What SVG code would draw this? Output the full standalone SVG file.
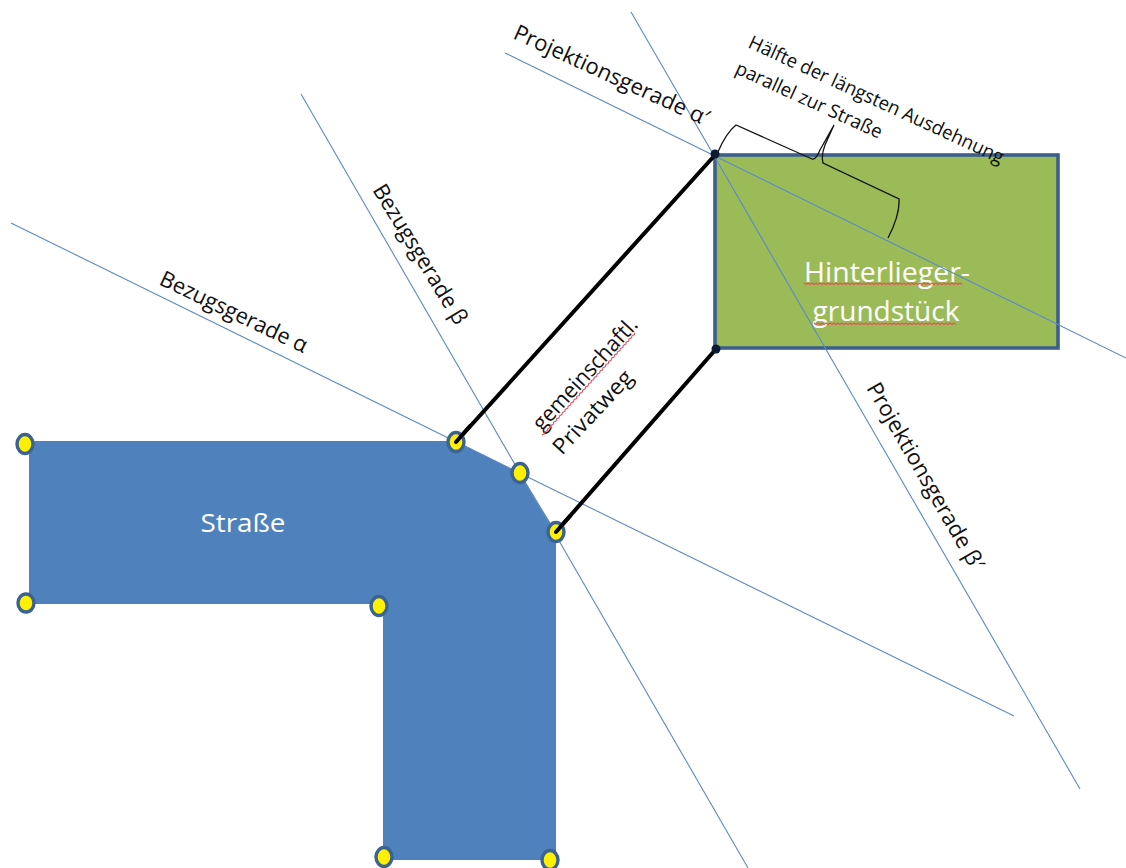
<svg xmlns="http://www.w3.org/2000/svg" width="1126" height="868" viewBox="0 0 1126 868">
<style>
text{font-family:"Open Sans","Noto Sans","Liberation Sans",sans-serif;fill:#111}
.ln{stroke:#5b8ac6;stroke-width:1.1;fill:none}
.pt{fill:#ffef00;stroke:#3a6394;stroke-width:3.4}
.blk{stroke:#000;stroke-width:4;fill:none;stroke-linecap:round}
.sq{stroke:#e8505a;stroke-width:1.1;fill:none}
.w{fill:#fff}
</style>
<rect width="1126" height="868" fill="#fff"/>
<g id="strasse">
<path d="M29 441H456L520 473L556 532V860H383V604H29Z" fill="#4f81bd"/>
<text class="w" x="243" y="532" font-size="26" text-anchor="middle" textLength="85" lengthAdjust="spacingAndGlyphs">Straße</text>
</g>
<g id="grundstueck">
<rect x="715" y="155" width="343" height="193" fill="#9bbb59" stroke="#3c5f8e" stroke-width="3.600"/>
<text class="w" x="887" y="282" font-size="28" text-anchor="middle" textLength="166" lengthAdjust="spacingAndGlyphs">Hinterlieger-</text>
<text class="w" x="886" y="321" font-size="28" text-anchor="middle" textLength="147" lengthAdjust="spacingAndGlyphs">grundstück</text>
<path class="sq" d="M804 283l2 1.500 2-1.500 2 1.500 2-1.500 2 1.500 2-1.500 2 1.500 2-1.500 2 1.500 2-1.500 2 1.500 2-1.500 2 1.500 2-1.500 2 1.500 2-1.500 2 1.500 2-1.500 2 1.500 2-1.500 2 1.500 2-1.500 2 1.500 2-1.500 2 1.500 2-1.500 2 1.500 2-1.500 2 1.500 2-1.500 2 1.500 2-1.500 2 1.500 2-1.500 2 1.500 2-1.500 2 1.500 2-1.500 2 1.500 2-1.500 2 1.500 2-1.500 2 1.500 2-1.500 2 1.500 2-1.500 2 1.500 2-1.500 2 1.500 2-1.500 2 1.500 2-1.500 2 1.500 2-1.500 2 1.500 2-1.500 2 1.500 2-1.500 2 1.500 2-1.500 2 1.500 2-1.500 2 1.500 2-1.500 2 1.500 2-1.500 2 1.500 2-1.500 2 1.500 2-1.500 2 1.500 2-1.500 2 1.500 2-1.500 2 1.500 2-1.500 2 1.500 2-1.500 2 1.500"/>
<path class="sq" d="M814 323l2 1.500 2-1.500 2 1.500 2-1.500 2 1.500 2-1.500 2 1.500 2-1.500 2 1.500 2-1.500 2 1.500 2-1.500 2 1.500 2-1.500 2 1.500 2-1.500 2 1.500 2-1.500 2 1.500 2-1.500 2 1.500 2-1.500 2 1.500 2-1.500 2 1.500 2-1.500 2 1.500 2-1.500 2 1.500 2-1.500 2 1.500 2-1.500 2 1.500 2-1.500 2 1.500 2-1.500 2 1.500 2-1.500 2 1.500 2-1.500 2 1.500 2-1.500 2 1.500 2-1.500 2 1.500 2-1.500 2 1.500 2-1.500 2 1.500 2-1.500 2 1.500 2-1.500 2 1.500 2-1.500 2 1.500 2-1.500 2 1.500 2-1.500 2 1.500 2-1.500 2 1.500 2-1.500 2 1.500 2-1.500 2 1.500 2-1.500 2 1.500 2-1.500 2 1.500 2-1.500 2 1.500"/>
</g>
<g id="connectors">
<path class="ln" d="M11 223L1014 716"/>
<path class="ln" d="M301 94L748 868"/>
<path class="ln" d="M505 53L1126 358"/>
<path class="ln" d="M631 12L1080 789"/>
<path class="blk" d="M456 442L715 155"/>
<path class="blk" d="M556 532L716 349"/>
<path d="M718 152Q726 133 736 125L812 159Q816 160 820 150L834 125L825 145Q821 155 823 163L899 199Q900 215 888 238" fill="none" stroke="#111" stroke-width="1.300"/>
</g>
<g id="punkte">
<ellipse class="pt" cx="25" cy="444" rx="8" ry="9.500"/>
<ellipse class="pt" cx="26" cy="603" rx="8" ry="9"/>
<ellipse class="pt" cx="379" cy="606" rx="8" ry="9.500"/>
<ellipse class="pt" cx="456" cy="442" rx="8" ry="9.500"/>
<ellipse class="pt" cx="520" cy="473" rx="8" ry="9.500"/>
<ellipse class="pt" cx="556" cy="532" rx="8" ry="9.500"/>
<ellipse class="pt" cx="384" cy="857" rx="8" ry="9.500"/>
<ellipse class="pt" cx="550" cy="860" rx="8" ry="9.500"/>
<path class="blk" d="M456 442L470 426M556 532L570 516"/>
<circle cx="715" cy="154" r="4.500" fill="#0a1a30"/>
<circle cx="716" cy="349" r="4.500" fill="#0a1a30"/>
</g>
<g id="labels">
<text transform="translate(158 284) rotate(25.500)" font-size="22" textLength="161" lengthAdjust="spacingAndGlyphs">Bezugsgerade α</text>
<text transform="translate(372 190) rotate(58.400)" font-size="22" textLength="160" lengthAdjust="spacingAndGlyphs">Bezugsgerade β</text>
<text transform="translate(512 38) rotate(24.500)" font-size="22" textLength="212" lengthAdjust="spacingAndGlyphs">Projektionsgerade α′</text>
<text transform="translate(866 388) rotate(60)" font-size="22" textLength="212" lengthAdjust="spacingAndGlyphs">Projektionsgerade β′</text>
<text transform="translate(747 47) rotate(24.800)" font-size="19" textLength="279" lengthAdjust="spacingAndGlyphs">Hälfte der längsten Ausdehnung</text>
<text transform="translate(734 73) rotate(24.500)" font-size="19" textLength="159" lengthAdjust="spacingAndGlyphs">parallel zur Straße</text>
<text transform="translate(542 432) rotate(-47.600)" font-size="22" textLength="144" lengthAdjust="spacingAndGlyphs">gemeinschaftl.</text>
<text transform="translate(562 456) rotate(-47)" font-size="22" textLength="106" lengthAdjust="spacingAndGlyphs">Privatweg</text>
<path class="sq" d="M542 435l2.600-1.200 .3-2 2.600-1.200 .3-2 2.600-1.200 .3-2 2.600-1.200 .3-2 2.600-1.200 .3-2 2.600-1.200 .3-2 2.600-1.200 .3-2 2.600-1.200 .3-2 2.600-1.200 .3-2 2.600-1.200 .3-2 2.600-1.200 .3-2 2.600-1.200 .3-2 2.600-1.200 .3-2 2.600-1.200 .3-2 2.600-1.200 .3-2 2.600-1.200 .3-2 2.600-1.200 .3-2 2.600-1.200 .3-2 2.600-1.200 .3-2 2.600-1.200 .3-2 2.600-1.200 .3-2 2.600-1.200 .3-2 2.600-1.200 .3-2 2.600-1.200 .3-2 2.600-1.200 .3-2 2.600-1.200 .3-2 2.600-1.200 .3-2 2.600-1.200 .3-2 2.600-1.200 .3-2 2.600-1.200 .3-2 2.600-1.200 .3-2 2.600-1.200 .3-2"/>
</g>
</svg>
